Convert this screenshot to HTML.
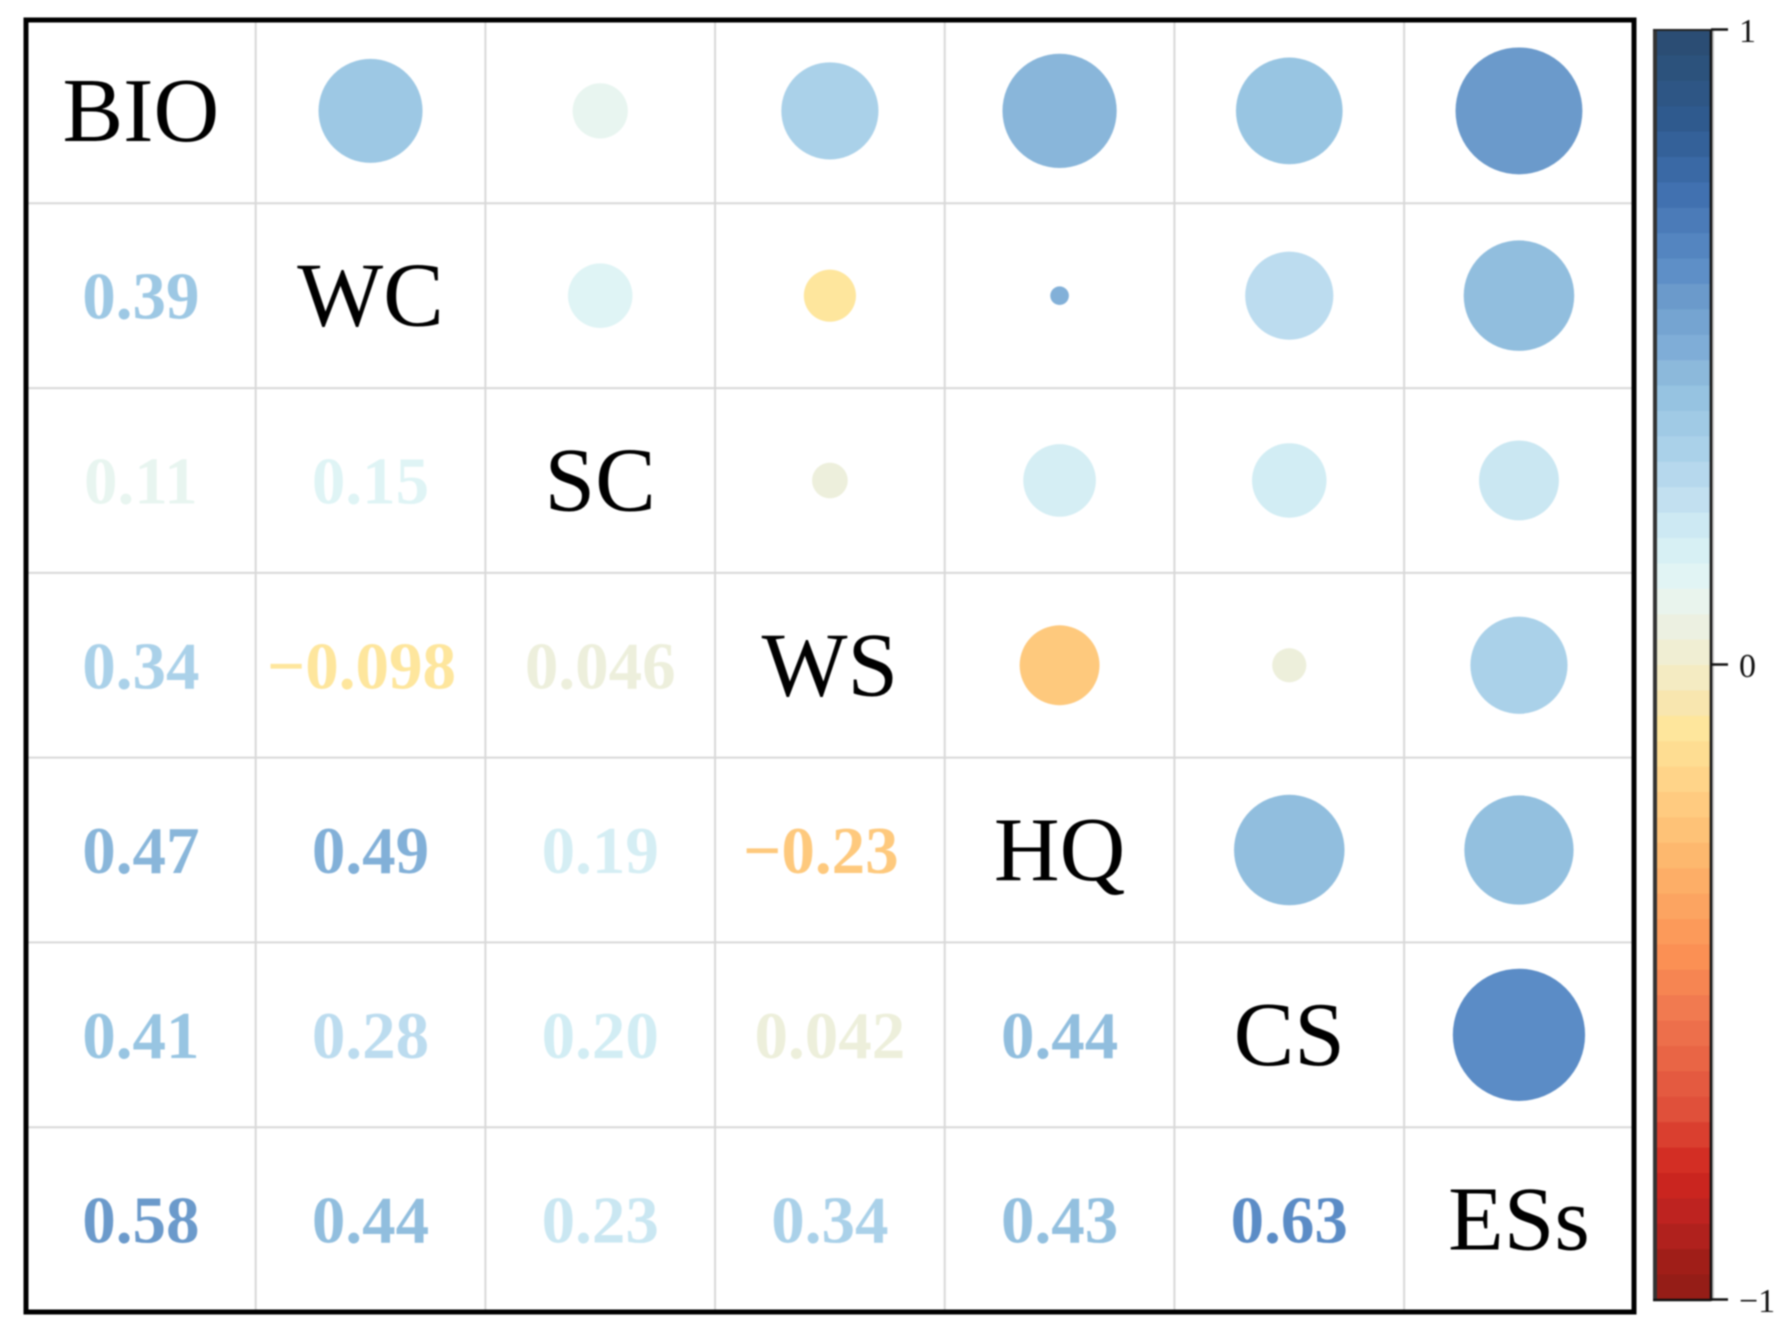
<!DOCTYPE html>
<html lang="en">
<head>
<meta charset="utf-8">
<title>Correlation matrix</title>
<style>
  html, body { margin: 0; padding: 0; background: #fff; }
  body { width: 1787px; height: 1344px; overflow: hidden; }
  svg { display: block; filter: blur(0.8px); }
  text { font-family: "Liberation Serif", serif; }
</style>
</head>
<body>
<svg id="chart" xmlns="http://www.w3.org/2000/svg" width="1787" height="1344" viewBox="0 0 1787 1344">
  <rect x="0" y="0" width="1787" height="1344" fill="#ffffff"/>
  <g id="grid"></g>
  <g id="marks"></g>
  <rect x="26" y="20" width="1608" height="1292" fill="none" stroke="#000" stroke-width="5"/>
  <g id="colorbar"></g>
</svg>
<script>
const variables = ["BIO", "WC", "SC", "WS", "HQ", "CS", "ESs"];
// lower triangle: printed coefficients, row by row
const lowerValues = [
  [],
  [0.39],
  [0.11, 0.15],
  [0.34, -0.098, 0.046],
  [0.47, 0.49, 0.19, -0.23],
  [0.41, 0.28, 0.20, 0.042, 0.44],
  [0.58, 0.44, 0.23, 0.34, 0.43, 0.63]
];
// upper triangle: value setting each circle's size (row i, col j > i), as read from the circles
const circleSizes = [
  [0.39, 0.11, 0.34, 0.47, 0.41, 0.58],
  [0.15, 0.098, 0.0125, 0.28, 0.44],
  [0.046, 0.19, 0.20, 0.23],
  [0.23, 0.042, 0.34],
  [0.44, 0.43],
  [0.63],
  []
];
const colorbarTicks = [1, 0, -1];
const paletteValues = [1, 0.92, 0.85, 0.75, 0.63, 0.58, 0.5, 0.47, 0.41, 0.34, 0.28, 0.2, 0.15, 0.11, 0.045, 0, -0.05, -0.1, -0.2, -0.3, -0.45, -0.55, -0.7, -0.8, -0.88, -0.94, -1];
const paletteColors = ["#2a4a70", "#2d5480", "#2f5b90", "#3f6fae", "#5b8cc6", "#6b9acb", "#7fadd7", "#89b6da", "#98c5e2", "#aad1e9", "#bcdcef", "#d2edf4", "#dff4f5", "#e8f5f0", "#edefdc", "#f2eecb", "#f6e6b4", "#fee69c", "#ffd084", "#fdb86e", "#fc9355", "#f0774f", "#e0503a", "#d0261e", "#b82220", "#a01e18", "#8f1d17"];
const colorbarBandCount = 50;

const NS = "http://www.w3.org/2000/svg";
const plot = { left: 26, top: 18.5, width: 1607.8, height: 1293.5 };
const bar = { left: 1656, right: 1711, top: 30, bottom: 1300 };
const radiusScale = 83.3;
const n = variables.length;

const xCell = j => plot.left + plot.width * j / n;
const yCell = i => plot.top + plot.height * i / n;
const xCenter = j => xCell(j + 0.5);
const yCenter = i => yCell(i + 0.5);
const yBar = v => bar.top + (1 - v) / 2 * (bar.bottom - bar.top);
const radius = v => radiusScale * Math.sqrt(Math.abs(v));

function hexRgb(h) {
  return [1, 3, 5].map(k => parseInt(h.substr(k, 2), 16));
}
function colorFor(v) {
  const c = Math.max(-1, Math.min(1, v));
  for (let k = 0; k < paletteValues.length - 1; k++) {
    const a = paletteValues[k], b = paletteValues[k + 1];
    if (c <= a && c >= b) {
      const t = (a - c) / (a - b);
      const ca = hexRgb(paletteColors[k]), cb = hexRgb(paletteColors[k + 1]);
      const m = ca.map((x, q) => Math.round(x + (cb[q] - x) * t));
      return "rgb(" + m.join(",") + ")";
    }
  }
  return paletteColors[paletteColors.length - 1];
}
function formatValue(v) {
  return v.toPrecision(2).replace("-", "\u2212");
}
function make(tag, attrs, parent) {
  const el = document.createElementNS(NS, tag);
  Object.keys(attrs).forEach(k => el.setAttribute(k, attrs[k]));
  parent.appendChild(el);
  return el;
}

const gridG = document.getElementById("grid");
const marksG = document.getElementById("marks");
const cbG = document.getElementById("colorbar");

for (let k = 1; k < n; k++) {
  const v = make("line", { x1: xCell(k), x2: xCell(k), y1: plot.top, y2: plot.top + plot.height, stroke: "#d8d8d8", "stroke-width": 2 }, gridG);
  
  
  const h = make("line", { x1: plot.left, x2: plot.left + plot.width, y1: yCell(k), y2: yCell(k), stroke: "#d8d8d8", "stroke-width": 2 }, gridG);
  
  
}

for (let i = 0; i < n; i++) {
  const d = make("text", { x: xCenter(i), y: yCenter(i) + 30, "text-anchor": "middle", "font-size": 91, fill: "#000" }, marksG);
  d.textContent = variables[i];
  
  
  for (let j = 0; j < i; j++) {
    const val = lowerValues[i][j];
    const shift = val < 0 ? -9 : 0;
    const t = make("text", { x: xCenter(j) + shift, y: yCenter(i) + 23, "text-anchor": "middle", "font-size": 67, "font-weight": "bold", fill: colorFor(val) }, marksG);
    t.textContent = formatValue(val);
    
    
  }
  for (let j = i + 1; j < n; j++) {
    const size = circleSizes[i][j - i - 1];
    const colorVal = lowerValues[j][i];
    const c = make("circle", { cx: xCenter(j), cy: yCenter(i), r: radius(size), fill: colorFor(colorVal) }, marksG);
    
    
  }
}

for (let b = 0; b < colorbarBandCount; b++) {
  const hi = 1 - 2 * b / colorbarBandCount;
  const lo = 1 - 2 * (b + 1) / colorbarBandCount;
  const r = make("rect", { x: bar.left, width: bar.right - bar.left, y: yBar(hi), height: yBar(lo) - yBar(hi) + 0.6, fill: colorFor((hi + lo) / 2) }, cbG);
  
  
}
const edgeLeft = make("line", { x1: bar.left - 1, x2: bar.left - 1, y1: bar.top - 1, y2: bar.bottom + 1, stroke: "#333", "stroke-width": 4 }, cbG);


const edgeShadow = make("line", { x1: bar.right + 2, x2: bar.right + 2, y1: bar.top, y2: bar.bottom, stroke: "#c4c4c4", "stroke-width": 2 }, cbG);


const edgeRight = make("line", { x1: bar.right, x2: bar.right, y1: bar.top - 1, y2: bar.bottom + 1, stroke: "#111", "stroke-width": 2.5 }, cbG);


const edgeTop = make("line", { x1: bar.left - 3, x2: bar.right, y1: bar.top, y2: bar.top, stroke: "#222", "stroke-width": 2 }, cbG);


const edgeBottom = make("line", { x1: bar.left - 3, x2: bar.right, y1: bar.bottom, y2: bar.bottom, stroke: "#111", "stroke-width": 2.5 }, cbG);


colorbarTicks.forEach(v => {
  const l = make("line", { x1: bar.right, x2: bar.right + 17, y1: yBar(v) - 0.5, y2: yBar(v) - 0.5, stroke: "#111", "stroke-width": 2.5 }, cbG);
  
  
  const t = make("text", { x: bar.right + 28, y: yBar(v) + 12, "font-size": 34, fill: "#111" }, cbG);
  t.textContent = v < 0 ? "\u2212" + Math.abs(v) : String(v);
  
  
});
</script>
</body>
</html>
